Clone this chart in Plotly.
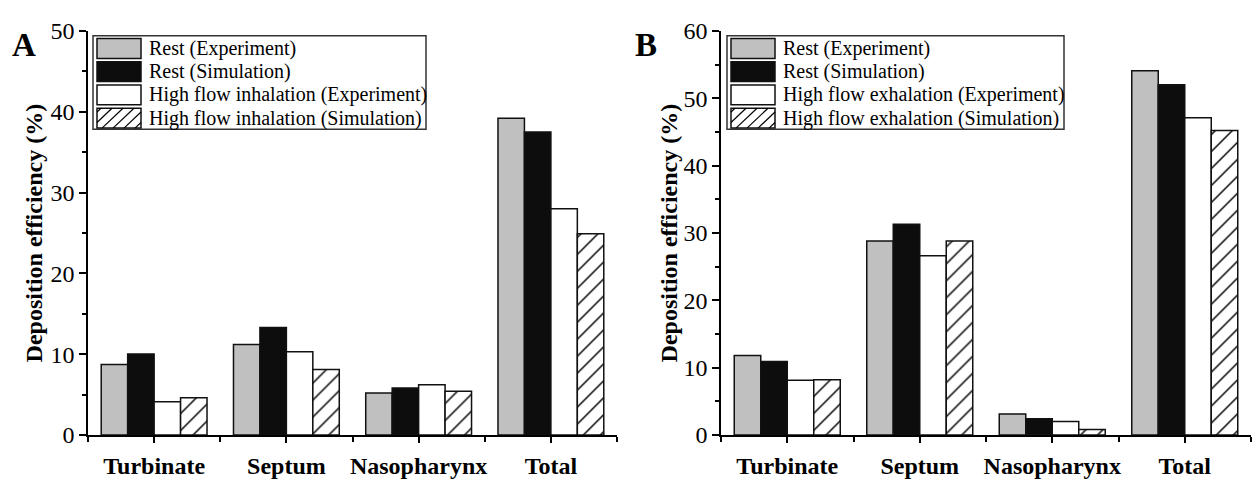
import plotly.graph_objects as go

# ---- data -------------------------------------------------------------
categories = ["Turbinate", "Septum", "Nasopharynx", "Total"]

series_names_a = [
    "Rest (Experiment)",
    "Rest (Simulation)",
    "High flow inhalation (Experiment)",
    "High flow inhalation (Simulation)",
]
series_names_b = [
    "Rest (Experiment)",
    "Rest (Simulation)",
    "High flow exhalation (Experiment)",
    "High flow exhalation (Simulation)",
]

rest_exp_a = [8.7, 11.2, 5.2, 39.2]
rest_sim_a = [10.0, 13.3, 5.8, 37.5]
high_exp_a = [4.1, 10.3, 6.2, 28.0]
high_sim_a = [4.6, 8.1, 5.4, 24.9]

rest_exp_b = [11.8, 28.8, 3.1, 54.1]
rest_sim_b = [10.9, 31.3, 2.4, 52.0]
high_exp_b = [8.1, 26.6, 2.0, 47.1]
high_sim_b = [8.2, 28.8, 0.8, 45.2]

y_ticks_a = [0, 10, 20, 30, 40, 50]
y_ticks_b = [0, 10, 20, 30, 40, 50, 60]

# ---- styling ----------------------------------------------------------
W, H = 1252, 481
FONT = "Liberation Serif"
GRAY = "#c0c0c0"
BLACK = "#0d0d0d"
EDGE = "#111111"

styles = [
    dict(color=GRAY),
    dict(color=BLACK),
    dict(color="white"),
    dict(color="white", pattern=dict(shape="/", size=12, solidity=0.12,
                                     fgcolor="black", bgcolor="white",
                                     fillmode="replace")),
]


def px(x):
    return x / W


def py(y):
    return 1 - y / H


x_pos = list(range(len(categories)))

fig = go.Figure()

panels = [
    ("x", "y", [rest_exp_a, rest_sim_a, high_exp_a, high_sim_a], series_names_a),
    ("x2", "y2", [rest_exp_b, rest_sim_b, high_exp_b, high_sim_b], series_names_b),
]
for xa, ya, values, names in panels:
    for vals, name, st in zip(values, names, styles):
        fig.add_trace(go.Bar(
            x=x_pos, y=vals, name=name, xaxis=xa, yaxis=ya,
            marker=dict(**st, line=dict(color=EDGE, width=1.5)),
            showlegend=False,
        ))

y_dom = [py(446), py(19)]
common_x = dict(
    range=[-0.5, 3.5], tickvals=x_pos, ticktext=categories,
    showline=True, linecolor="black", linewidth=1.5,
    ticks="outside", ticklen=6, tickwidth=1.5, tickcolor="black",
    minor=dict(tickvals=[-0.5, 0.5, 1.5, 2.5, 3.5], ticks="outside",
               ticklen=5, tickwidth=1.5, tickcolor="black"),
    tickfont=dict(family=FONT, size=24, color="black", weight="bold"),
    ticklabelstandoff=3,
    showgrid=False, zeroline=False, fixedrange=True,
)
common_y = dict(
    showline=True, linecolor="black", linewidth=1.5,
    ticks="outside", ticklen=7, tickwidth=1.5, tickcolor="black",
    minor=dict(dtick=5, ticks="outside", ticklen=4, tickwidth=1.5,
               tickcolor="black"),
    tickfont=dict(family=FONT, size=24, color="black"),
    showgrid=False, zeroline=False, fixedrange=True, domain=y_dom,
)

fig.update_layout(
    width=W, height=H,
    margin=dict(l=0, r=0, t=0, b=0),
    paper_bgcolor="white", plot_bgcolor="white",
    barmode="group", bargap=0.2, bargroupgap=0,
    showlegend=False,
    xaxis=dict(common_x, domain=[px(88), px(617)], anchor="y"),
    xaxis2=dict(common_x, domain=[px(721), px(1251)], anchor="y2"),
    yaxis=dict(common_y, range=[0, 50], tickvals=y_ticks_a, anchor="x"),
    yaxis2=dict(common_y, range=[0, 60], tickvals=y_ticks_b, anchor="x2"),
)

# ---- panel letters and axis titles -------------------------------------
for letter, xc in (("A", 24), ("B", 646)):
    fig.add_annotation(text=f"<b>{letter}</b>", x=px(xc), y=py(34),
                       xref="paper", yref="paper", showarrow=False,
                       xanchor="center", yanchor="middle",
                       font=dict(family=FONT, size=33, color="black"))
for xc in (34, 669):
    fig.add_annotation(text="<b>Deposition efficiency (%)</b>",
                       x=px(xc), y=py(233), xref="paper", yref="paper",
                       showarrow=False, textangle=-90,
                       xanchor="center", yanchor="middle",
                       font=dict(family=FONT, size=24, color="black"))

# ---- legends (drawn as boxes with swatches) ----------------------------
ROW_Y = [37.5, 62.0, 86.6, 111.2]
SW_W, SW_H = 44, 21


def add_legend(box_x0, box_x1, names):
    fig.add_shape(type="rect", xref="paper", yref="paper",
                  x0=px(box_x0), x1=px(box_x1), y0=py(24), y1=py(123),
                  line=dict(color="#333333", width=1.5), fillcolor="white")
    sx0 = box_x0 + 4
    sx1 = sx0 + SW_W
    for cy, name, st in zip(ROW_Y, names, styles):
        y0, y1 = cy - SW_H / 2, cy + SW_H / 2
        fig.add_shape(type="rect", xref="paper", yref="paper",
                      x0=px(sx0), x1=px(sx1), y0=py(y1), y1=py(y0),
                      line=dict(color=EDGE, width=1.5),
                      fillcolor=st["color"])
        if "pattern" in st:
            # diagonal hatch clipped to the swatch
            step = 11
            c = sx0 + y0 + 4
            while c < sx1 + y1:
                segs = []
                # line: x + y = c
                for xx in (sx0, sx1):
                    yy = c - xx
                    if y0 <= yy <= y1:
                        segs.append((xx, yy))
                for yy in (y0, y1):
                    xx = c - yy
                    if sx0 <= xx <= sx1:
                        segs.append((xx, yy))
                if len(segs) >= 2:
                    (ax, ay), (bx, by) = segs[0], segs[-1]
                    fig.add_shape(type="line", xref="paper", yref="paper",
                                  x0=px(ax), y0=py(ay), x1=px(bx), y1=py(by),
                                  line=dict(color="black", width=1.2))
                c += step
        fig.add_annotation(text=name, x=px(sx1 + 6), y=py(cy),
                           xref="paper", yref="paper", showarrow=False,
                           xanchor="left", yanchor="middle",
                           font=dict(family=FONT, size=20, color="black"))


add_legend(93, 426, series_names_a)
add_legend(727, 1064, series_names_b)

fig.write_html("out.html")
